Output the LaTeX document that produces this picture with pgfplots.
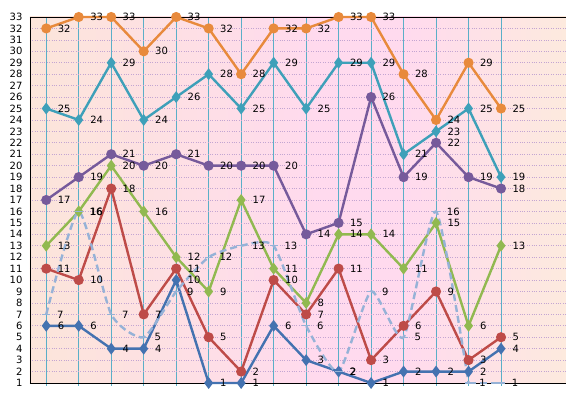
\documentclass[border=0pt]{standalone}
\usepackage{pgfplots}
\pgfplotsset{compat=1.18}
\usepackage{fontspec}
\setmainfont{DejaVu Sans}
\definecolor{pch}{RGB}{252,229,218}
\definecolor{pch2}{RGB}{253,234,222}
\definecolor{pnk}{RGB}{255,218,238}
\definecolor{sBlue}{RGB}{68,114,176}
\definecolor{sRed}{RGB}{190,75,72}
\definecolor{sGreen}{RGB}{145,185,80}
\definecolor{sPurple}{RGB}{118,90,155}
\definecolor{sTeal}{RGB}{62,160,185}
\definecolor{sOrange}{RGB}{232,138,60}
\definecolor{sLight}{RGB}{150,178,215}
\definecolor{gridP}{RGB}{195,165,210}
\definecolor{vTeal}{RGB}{90,175,200}
\pgfdeclarehorizontalshading{bgshade}{100bp}{color(0bp)=(pch); color(25bp)=(pch); color(52bp)=(pnk); color(60bp)=(pnk); color(75bp)=(pch2); color(100bp)=(pch2)}
\begin{document}
\begin{tikzpicture}
\begin{axis}[
  at={(0,0)}, anchor=south west,
  scale only axis, width=536pt, height=366pt,
  xmin=-0.5, xmax=16, ymin=1, ymax=33,
  axis background/.style={shade, shading=bgshade},
  axis lines=left, axis line style={-, black, line width=0.8pt},
  xtick={0,...,14}, xticklabels={},
  xmajorgrids, x grid style={vTeal, line width=0.7pt},
  x tick style={vTeal, line width=0.7pt}, major tick length=3pt,
  tick align=outside,
  ytick={1,...,33}, ymajorgrids, y grid style={gridP, dotted, line width=0.7pt},
  y tick style={draw=none},
  yticklabel style={font=\fontsize{10}{10}\selectfont, xshift=-1pt},
  /pgf/number format/assume math mode=true,
  clip=false,
  nodes near coords,
  every node near coord/.append style={anchor=west, xshift=7pt, font=\fontsize{10}{10}\selectfont, text=black},
  every axis plot/.append style={line width=2.4pt},
]
\draw[black, line width=0.8pt] (rel axis cs:0,1) -- (rel axis cs:1,1);
% blue
\addplot[sBlue, mark=diamond*, mark size=4pt] coordinates {(0,6)(1,6)(2,4)(3,4)(4,10)(5,1)(6,1)(7,6)(8,3)(9,2)(10,1)(11,2)(12,2)(13,2)(14,4)};
% red
\addplot[sRed, mark=*, mark size=3.8pt] coordinates {(0,11)(1,10)(2,18)(3,7)(4,11)(5,5)(6,2)(7,10)(8,7)(9,11)(10,3)(11,6)(12,9)(13,3)(14,5)};
% green
\addplot[sGreen, mark=diamond*, mark size=4pt] coordinates {(0,13)(1,16)(2,20)(3,16)(4,12)(5,9)(6,17)(7,11)(8,8)(9,14)(10,14)(11,11)(12,15)(13,6)(14,13)};
% purple
\addplot[sPurple, mark=*, mark size=3.8pt] coordinates {(0,17)(1,19)(2,21)(3,20)(4,21)(5,20)(6,20)(7,20)(8,14)(9,15)(10,26)(11,19)(12,22)(13,19)(14,18)};
% teal
\addplot[sTeal, mark=diamond*, mark size=4pt] coordinates {(0,25)(1,24)(2,29)(3,24)(4,26)(5,28)(6,25)(7,29)(8,25)(9,29)(10,29)(11,21)(12,23)(13,25)(14,19)};
% orange
\addplot[sOrange, mark=*, mark size=3.8pt] coordinates {(0,32)(1,33)(2,33)(3,30)(4,33)(5,32)(6,28)(7,32)(8,32)(9,33)(10,33)(11,28)(12,24)(13,29)(14,25)};
% light dashed
\addplot[sLight, smooth, tension=0.35, dash pattern=on 7pt off 4pt, mark=-, mark size=4pt, mark options={solid, line width=1.2pt}] coordinates {(0,7)(1,16)(2,7)(3,5)(4,9)(5,12)(6,13)(7,13)(8,6)(9,2)(10,9)(11,5)(12,16)(13,1)};
\addplot[sLight, dash pattern=on 7pt off 4pt, mark=-, mark size=4pt, mark options={solid, line width=1.2pt}, point meta=explicit symbolic] coordinates {(13,1) [] (14,1) [1]};
\end{axis}
\pgfresetboundingbox
\path[use as bounding box] (-30pt,-15pt) rectangle (536pt,383pt);
\end{tikzpicture}
\end{document}
